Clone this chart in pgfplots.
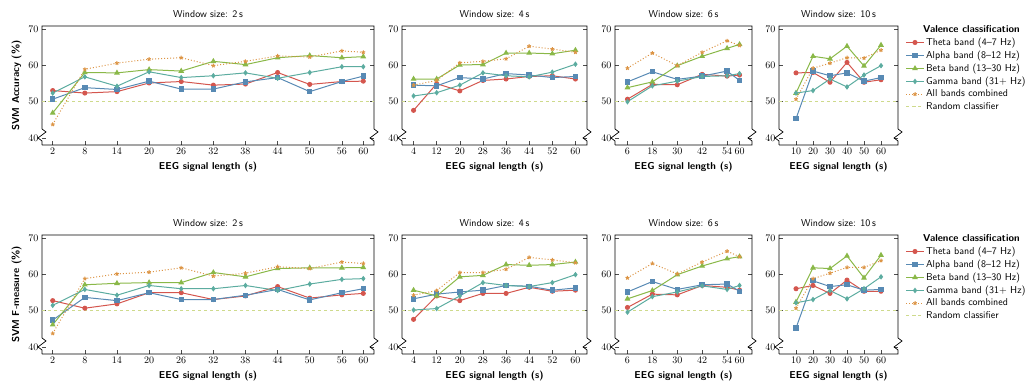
\documentclass[border=0pt]{standalone}
\usepackage{fontspec}
\usepackage{pgfplots}
\usepackage{pgfplotstable}
\pgfplotsset{compat=1.18}
\definecolor{cTheta}{RGB}{212,86,78}
\definecolor{cAlpha}{RGB}{88,138,180}
\definecolor{cBeta}{RGB}{138,184,72}
\definecolor{cGamma}{RGB}{92,172,160}
\definecolor{cAll}{RGB}{220,148,68}
\definecolor{cRand}{RGB}{206,218,140}

\pgfplotstableread{
x theta alpha beta gamma all
2 53.1 50.7 46.9 52.4 43.7
8 52.4 53.9 58.1 56.9 59.0
14 52.8 53.4 58.0 54.3 60.7
20 55.2 55.7 58.9 58.3 61.8
26 55.6 53.5 58.5 56.7 62.2
32 54.6 53.5 61.2 57.2 60.0
38 54.9 55.5 60.3 58.0 61.2
44 58.1 56.7 62.2 56.5 62.7
50 54.8 52.8 62.8 58.1 62.4
56 55.6 55.6 62.2 59.7 64.1
60 55.7 57.1 62.5 59.7 63.7
}\accA
\pgfplotstableread{
x theta alpha beta gamma all
4 47.6 54.6 56.3 51.6 54.6
12 55.0 54.4 56.3 52.5 55.9
20 53.0 56.7 60.2 54.6 60.8
28 55.9 56.3 60.3 58.0 61.2
36 56.3 57.8 63.5 57.2 61.9
44 57.0 57.4 63.5 56.9 65.4
52 57.2 56.7 63.3 58.2 64.6
60 56.3 57.0 64.3 60.4 63.7
}\accB
\pgfplotstableread{
x theta alpha beta gamma all
6 50.7 55.5 53.9 50.0 59.3
18 54.8 58.3 55.5 54.4 63.5
30 54.7 56.2 60.0 55.7 60.0
42 57.6 57.1 62.6 57.0 63.7
54 57.1 58.5 64.8 57.2 66.9
60 57.4 55.9 65.9 57.8 65.6
}\accC
\pgfplotstableread{
x theta alpha beta gamma all
10 58.0 45.3 52.4 52.4 50.7
20 58.1 58.5 62.6 53.1 59.3
30 55.4 57.2 61.9 56.3 60.7
40 60.9 58.0 65.4 54.1 62.2
50 55.4 55.7 59.9 57.4 62.1
60 56.1 56.7 65.7 60.0 64.3
}\accD
\pgfplotstableread{
x theta alpha beta gamma all
2 52.8 47.4 46.1 51.5 43.7
8 50.7 53.7 57.2 55.9 58.9
14 51.9 52.8 57.6 54.3 60.2
20 55.0 55.0 57.8 57.0 60.7
26 55.0 53.1 57.8 56.1 61.9
32 53.1 53.1 60.6 56.1 59.6
38 54.1 54.3 59.4 57.0 60.4
44 56.7 55.9 61.7 55.6 62.2
50 53.5 53.0 61.9 57.4 61.7
56 54.4 55.0 61.9 58.7 63.5
60 54.8 56.1 62.0 58.9 63.1
}\fmA
\pgfplotstableread{
x theta alpha beta gamma all
4 47.6 53.3 55.7 50.2 54.3
12 54.1 54.6 54.1 50.6 55.6
20 52.8 55.2 59.4 54.1 60.6
28 54.8 55.7 59.8 57.8 60.6
36 54.8 57.0 62.8 57.0 61.5
44 56.5 56.8 62.6 56.7 64.8
52 55.4 55.7 62.8 57.8 64.1
60 55.7 56.3 63.5 60.0 63.3
}\fmB
\pgfplotstableread{
x theta alpha beta gamma all
6 50.9 55.2 53.3 49.6 59.1
18 54.6 58.1 55.6 53.9 63.1
30 54.4 55.9 60.0 55.2 60.2
42 57.0 57.2 62.4 56.9 63.5
54 56.5 57.4 64.4 55.9 66.5
60 55.7 55.4 65.0 57.0 65.0
}\fmC
\pgfplotstableread{
x theta alpha beta gamma all
10 56.1 45.2 52.4 52.2 50.7
20 57.0 58.3 61.9 53.1 58.9
30 54.8 56.7 61.7 55.6 60.4
40 58.5 57.2 65.2 53.3 62.0
50 55.4 55.7 59.1 56.1 62.0
60 55.4 55.9 65.4 59.4 63.9
}\fmD

\pgfplotsset{
  panel/.style={
    scale only axis, height=119pt,
    ymin=38, ymax=71, ytick={40,50,60,70},
    axis y discontinuity=crunch,
    xmin=0,
    xtick pos=bottom,
    axis line style={black, line width=0.7pt},
    tick style={black!70, line width=0.5pt},
    title style={font=\sffamily, yshift=-1pt},
    xlabel={EEG signal length (s)},
    xlabel style={font=\sffamily\bfseries},
    ylabel style={font=\sffamily\bfseries},
    clip=true,
  },
  sTheta/.style={cTheta, line width=1pt, mark=*, mark size=2pt, mark options={solid}},
  sAlpha/.style={cAlpha, line width=1pt, mark=square*, mark size=2.2pt, mark options={solid}},
  sBeta/.style={cBeta, line width=1pt, mark=triangle*, mark size=2.4pt, mark options={solid}},
  sGamma/.style={cGamma, line width=1pt, mark=diamond*, mark size=2pt, mark options={solid}},
  sAll/.style={cAll, line width=1pt, dotted, mark=star, mark size=2pt, mark options={solid, line width=1pt}},
  sRand/.style={cRand, line width=0.8pt, dashed},
  leg/.style={legend style={draw=none, fill=none, font=\sffamily, at={(1.04,1.04)}, anchor=north west, legend cell align=left}},
}

\newcommand{\plots}[1]{%
  \addplot[sRand, forget plot] coordinates {(0,50) (100,50)};
  \addplot[sTheta] table[x=x,y=theta]{#1};
  \addplot[sAlpha] table[x=x,y=alpha]{#1};
  \addplot[sBeta] table[x=x,y=beta]{#1};
  \addplot[sGamma] table[x=x,y=gamma]{#1};
  \addplot[sAll] table[x=x,y=all]{#1};
}

\begin{document}
\begin{tikzpicture}
\useasboundingbox (0,0) rectangle (1036pt,-390pt);

% Row 1
\begin{axis}[panel, at={(42pt,-26pt)}, anchor=north west, width=332pt, xmax=62,
  xtick={2,8,14,20,26,32,38,44,50,56,60}, title={Window size: 2\,s}, ylabel={SVM Accuracy (\%)}]
\plots{\accA}
\end{axis}
\begin{axis}[panel, at={(402pt,-26pt)}, anchor=north west, width=185pt, xmax=64,
  xtick={4,12,20,28,36,44,52,60}, title={Window size: 4\,s}]
\plots{\accB}
\end{axis}
\begin{axis}[panel, at={(615pt,-26pt)}, anchor=north west, width=137pt, xmax=66,
  xtick={6,18,30,42,54,60}, title={Window size: 6\,s}]
\plots{\accC}
\end{axis}
\begin{axis}[panel, leg, at={(779pt,-26pt)}, anchor=north west, width=119pt, xmax=70,
  xtick={10,20,30,40,50,60}, title={Window size: 10\,s}]
\addlegendimage{empty legend}
\addlegendentry{\hspace{-3pt}\textbf{Valence classification}}
\plots{\accD}
\addlegendentry{Theta band (4--7 Hz)}
\addlegendentry{Alpha band (8--12 Hz)}
\addlegendentry{Beta band (13--30 Hz)}
\addlegendentry{Gamma band (31$+$ Hz)}
\addlegendentry{All bands combined}
\addlegendimage{sRand}
\addlegendentry{Random classifier}
\end{axis}

% Row 2
\begin{axis}[panel, at={(42pt,-235pt)}, anchor=north west, width=332pt, xmax=62,
  xtick={2,8,14,20,26,32,38,44,50,56,60}, title={Window size: 2\,s}, ylabel={SVM F-measure (\%)}]
\plots{\fmA}
\end{axis}
\begin{axis}[panel, at={(402pt,-235pt)}, anchor=north west, width=185pt, xmax=64,
  xtick={4,12,20,28,36,44,52,60}, title={Window size: 4\,s}]
\plots{\fmB}
\end{axis}
\begin{axis}[panel, at={(615pt,-235pt)}, anchor=north west, width=137pt, xmax=66,
  xtick={6,18,30,42,54,60}, title={Window size: 6\,s}]
\plots{\fmC}
\end{axis}
\begin{axis}[panel, leg, at={(779pt,-235pt)}, anchor=north west, width=119pt, xmax=70,
  xtick={10,20,30,40,50,60}, title={Window size: 10\,s}]
\addlegendimage{empty legend}
\addlegendentry{\hspace{-3pt}\textbf{Valence classification}}
\plots{\fmD}
\addlegendentry{Theta band (4--7 Hz)}
\addlegendentry{Alpha band (8--12 Hz)}
\addlegendentry{Beta band (13--30 Hz)}
\addlegendentry{Gamma band (31$+$ Hz)}
\addlegendentry{All bands combined}
\addlegendimage{sRand}
\addlegendentry{Random classifier}
\end{axis}
\end{tikzpicture}
\end{document}
